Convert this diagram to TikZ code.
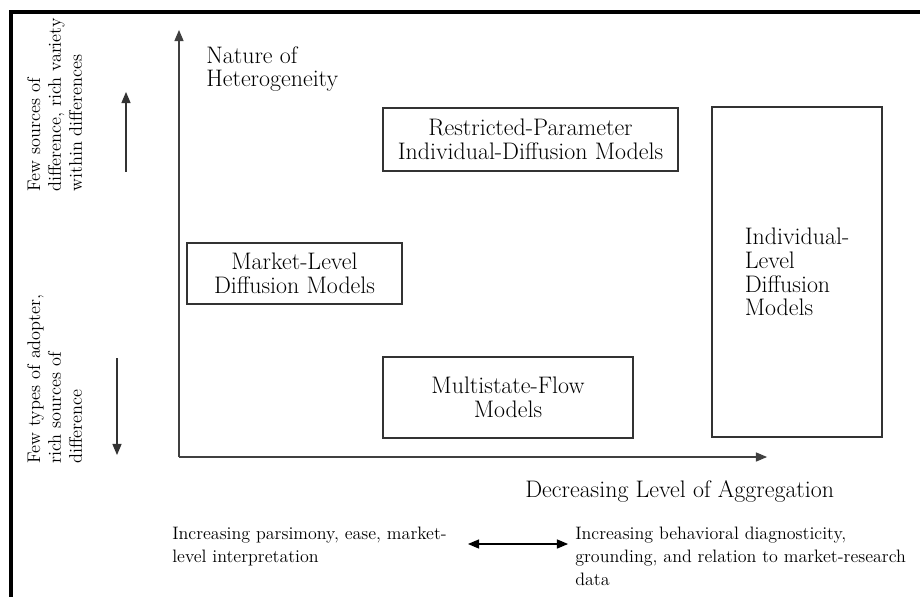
\documentclass[tikz,border=0pt]{standalone}
\usetikzlibrary{arrows}
\begin{document}
\begin{tikzpicture}[>=triangle 45,x=0.025cm,y=-0.025cm,
        model/.style={draw=black!80,thick,inner sep=0pt,align=center,
            font=\fontsize{17}{16.8}\selectfont},
        axislabel/.style={inner sep=0pt,align=left,font=\fontsize{17}{16.8}\selectfont},
        sidenote/.style={rotate=90,inner sep=0pt,align=left,font=\fontsize{13}{14.8}\selectfont},
        footnote/.style={inner sep=0pt,align=left,font=\fontsize{12.8}{16.3}\selectfont}]
                \useasboundingbox (0,0) rectangle (920,597);
                \draw[line width=2.2pt] (11,597) -- (11,12) -- (920,12);
                % axes
                \coordinate (o) at (179,457);
                \coordinate (ytop) at (179,30);
                \coordinate (xend) at (767,457);
                \draw[->,thick,black!75] (o) -- (ytop);
                \draw[->,thick,black!75] (o) -- (xend);
                \node[axislabel,anchor=north west] (nature) at (206,46) {Nature of\\Heterogeneity};
                \node[axislabel,anchor=base west] (aggr) at (525,497) {Decreasing Level of Aggregation};
                % model boxes
                \node[model,minimum width=7.375cm,minimum height=1.575cm] (restricted) at (530.5,139.5)
                    {Restricted-Parameter\\Individual-Diffusion Models};
                \node[model,minimum width=5.375cm,minimum height=1.525cm] (market) at (294.5,273.5)
                    {Market-Level\\Diffusion Models};
                \node[model,minimum width=6.25cm,minimum height=2.025cm] (multistate) at (508,397.5)
                    {Multistate-Flow\\Models};
                \node[model,align=left,minimum width=4.25cm,minimum height=8.25cm] (individual) at (797,272)
                    {Individual-\\Level\\Diffusion\\Models};
                % side notes
                \node[sidenote,anchor=north west] (few1) at (27,192)
                    {Few sources of\\difference, rich variety\\within differences};
                \node[sidenote,anchor=north west] (few2) at (27,464)
                    {Few types of adopter,\\rich sources of\\difference};
                \coordinate (upa) at (126,172);
                \coordinate (upb) at (126,92);
                \coordinate (dna) at (117,358);
                \coordinate (dnb) at (117,455);
                \draw[->,thick,black!80] (upa) -- (upb);
                \draw[->,thick,black!80] (dna) -- (dnb);
                % bottom notes
                \node[footnote,anchor=north west] (pars) at (172,527)
                    {Increasing parsimony, ease, market-\\level interpretation};
                \node[footnote,anchor=north west] (diag) at (575,527)
                    {Increasing behavioral diagnosticity,\\grounding, and relation to market-research\\data};
                \coordinate (la) at (468,544);
                \coordinate (lb) at (568,544);
                \draw[<->,thick] (la) -- (lb);
            \end{tikzpicture}
\end{document}
